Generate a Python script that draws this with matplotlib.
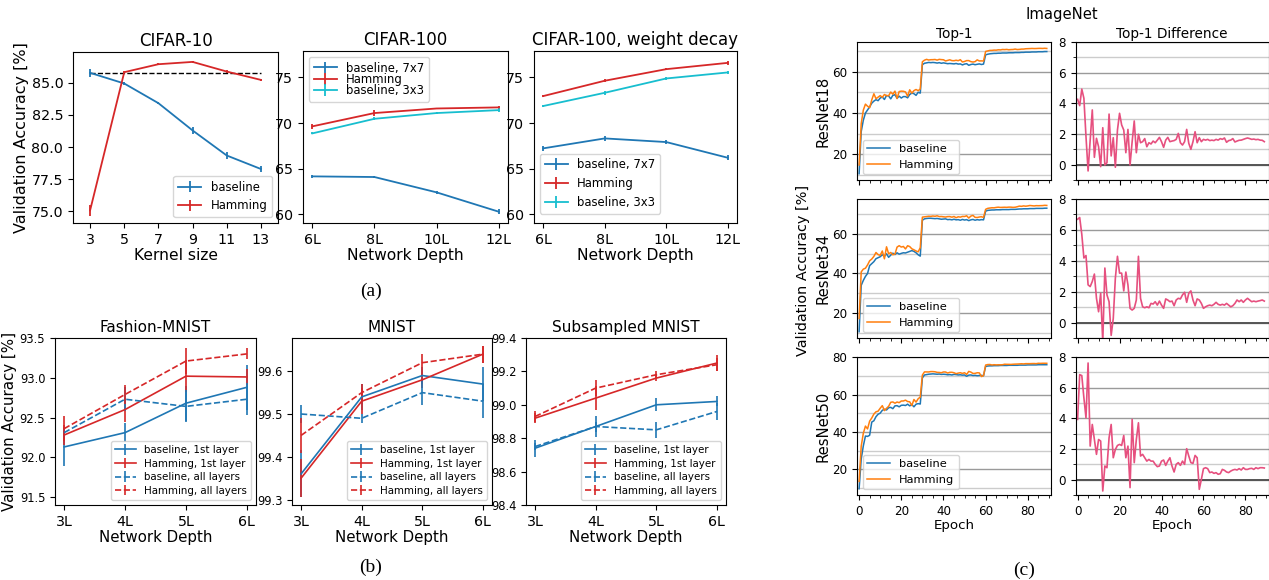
import matplotlib
matplotlib.use("Agg")
import matplotlib.pyplot as plt
import numpy as np
from matplotlib.ticker import MultipleLocator

# ---------------- (a) CIFAR ----------------
kernel_sizes = [3, 5, 7, 9, 11, 13]
c10_base = [85.78, 84.95, 83.42, 81.30, 79.35, 78.30]
c10_base_err = [0.3, 0.1, 0.1, 0.25, 0.3, 0.2]
c10_ham = [75.08, 85.83, 86.45, 86.63, 85.88, 85.23]
c10_ham_err = [0.4, 0.1, 0.08, 0.1, 0.15, 0.1]

depths_a = [6, 8, 10, 12]
depth_labels_a = ["6L", "8L", "10L", "12L"]
c100_base7 = [64.16, 64.09, 62.41, 60.29]
c100_base7_err = [0.15, 0.1, 0.2, 0.3]
c100_ham = [69.64, 71.10, 71.60, 71.72]
c100_ham_err = [0.3, 0.3, 0.1, 0.2]
c100_base3 = [68.87, 70.47, 71.10, 71.42]
c100_base3_err = [0.1, 0.15, 0.1, 0.2]
c100wd_base7 = [67.23, 68.32, 67.92, 66.20]
c100wd_base7_err = [0.3, 0.25, 0.2, 0.3]
c100wd_ham = [72.96, 74.64, 75.91, 76.60]
c100wd_ham_err = [0.1, 0.15, 0.1, 0.2]
c100wd_base3 = [71.87, 73.32, 74.89, 75.55]
c100wd_base3_err = [0.1, 0.2, 0.15, 0.15]

# ---------------- (b) MNIST variants ----------------
depths_b = [3, 4, 5, 6]
depth_labels_b = ["3L", "4L", "5L", "6L"]
fm_base1 = [92.13, 92.31, 92.68, 92.88]
fm_base1_err = [0.24, 0.12, 0.22, 0.28]
fm_ham1 = [92.28, 92.60, 93.02, 93.01]
fm_ham1_err = [0.12, 0.15, 0.2, 0.1]
fm_baseall = [92.31, 92.73, 92.64, 92.73]
fm_baseall_err = [0.05, 0.15, 0.2, 0.2]
fm_hamall = [92.36, 92.79, 93.21, 93.30]
fm_hamall_err = [0.16, 0.12, 0.16, 0.07]

mn_base1 = [99.36, 99.54, 99.59, 99.57]
mn_base1_err = [0.055, 0.03, 0.02, 0.04]
mn_ham1 = [99.35, 99.53, 99.58, 99.64]
mn_ham1_err = [0.045, 0.03, 0.02, 0.02]
mn_baseall = [99.50, 99.49, 99.55, 99.53]
mn_baseall_err = [0.02, 0.01, 0.03, 0.04]
mn_hamall = [99.45, 99.55, 99.62, 99.64]
mn_hamall_err = [0.04, 0.02, 0.02, 0.02]

sm_base1 = [98.74, 98.87, 99.00, 99.02]
sm_base1_err = [0.05, 0.06, 0.04, 0.03]
sm_ham1 = [98.92, 99.04, 99.16, 99.25]
sm_ham1_err = [0.03, 0.07, 0.02, 0.05]
sm_baseall = [98.75, 98.87, 98.85, 98.96]
sm_baseall_err = [0.02, 0.03, 0.05, 0.05]
sm_hamall = [98.93, 99.10, 99.18, 99.24]
sm_hamall_err = [0.03, 0.05, 0.02, 0.04]

# ---------------- (c) ImageNet, 90 epochs ----------------
r18_base = [10.5, 31.0, 36.5, 40.0, 41.5, 43.0, 44.8, 45.8, 46.5, 46.0,
            47.3, 47.8, 46.6, 48.5, 48.3, 46.9, 48.6, 48.9, 47.2, 48.2,
            47.3, 48.0, 48.0, 47.4, 49.0, 49.7, 49.4, 48.6, 50.1, 49.7,
            63.5, 64.2, 64.4, 64.6, 64.5, 64.6, 64.5, 64.3, 64.5, 64.2,
            64.4, 64.2, 64.0, 64.1, 64.0, 63.9, 64.1, 63.8, 63.9, 63.4,
            63.8, 64.0, 63.2, 63.6, 63.8, 63.5, 63.7, 63.9, 63.6, 63.8,
            68.3, 68.6, 68.8, 68.9, 69.0, 69.0, 69.1, 69.1, 69.2, 69.2,
            69.2, 69.3, 69.3, 69.3, 69.4, 69.4, 69.4, 69.5, 69.5, 69.6,
            69.6, 69.6, 69.7, 69.7, 69.7, 69.8, 69.8, 69.8, 69.9, 69.9]
r18_diff = [4.26, 3.85, 4.93, 4.33, 1.83, -0.41, 1.60, 3.57, 0.48, 1.72,
            1.17, -0.13, 2.41, -0.02, 0.13, 3.30, 0.57, 1.76, -0.17, 2.26,
            3.35, 2.59, 2.26, 0.78, 2.30, -0.02, 1.50, 2.85, 0.78, 1.98,
            1.43, 1.50, 1.70, 1.17, 1.43, 1.35, 1.54, 1.43, 1.60, 1.78,
            1.50, 1.13, 1.60, 1.78, 1.50, 1.54, 1.57, 1.65, 2.04, 1.43,
            1.28, 1.50, 2.30, 1.39, 1.00, 1.50, 2.15, 1.43, 1.76, 1.50,
            1.65, 1.60, 1.65, 1.57, 1.60, 1.57, 1.65, 1.60, 1.70, 1.65,
            1.74, 1.46, 1.57, 1.60, 1.70, 1.48, 1.54, 1.59, 1.60, 1.65,
            1.70, 1.74, 1.70, 1.65, 1.67, 1.63, 1.65, 1.60, 1.59, 1.50]

r34_base = [10.5, 34.0, 36.5, 38.5, 40.0, 44.0, 45.0, 46.0, 47.5, 48.0,
            48.5, 49.5, 48.7, 50.0, 48.2, 49.3, 50.3, 49.6, 50.5, 49.8,
            50.2, 50.5, 50.4, 50.8, 51.2, 51.6, 51.2, 50.5, 49.5, 48.8,
            67.0, 67.7, 67.9, 68.0, 68.0, 67.9, 67.8, 67.9, 67.7, 67.5,
            67.6, 67.7, 67.3, 67.4, 67.2, 67.5, 67.2, 67.3, 67.0, 67.4,
            67.1, 67.3, 66.8, 67.2, 67.4, 67.0, 67.3, 67.1, 67.3, 67.2,
            71.6, 72.0, 72.1, 72.2, 72.2, 72.3, 72.3, 72.3, 72.4, 72.4,
            72.4, 72.4, 72.5, 72.5, 72.5, 72.6, 72.7, 72.7, 72.8, 72.8,
            72.8, 72.9, 72.9, 72.9, 73.0, 73.0, 73.0, 73.0, 73.1, 73.1]
r34_diff = [6.69, 6.80, 5.71, 4.18, 4.34, 2.44, 2.33, 2.66, 3.14, 1.57,
            0.70, 1.90, -1.26, 3.53, 1.79, 1.35, -0.83, 0.26, 2.88, 4.29,
            3.20, 3.20, 2.05, 3.27, 2.44, 0.92, 0.81, 0.92, 1.46, 4.29,
            1.57, 1.02, 0.96, 1.02, 0.96, 1.24, 1.20, 1.35, 1.13, 1.39,
            1.13, 0.92, 1.53, 1.46, 1.35, 1.39, 1.09, 1.46, 1.57, 1.53,
            1.79, 1.96, 1.31, 1.90, 2.05, 1.46, 1.09, 1.53, 1.46, 1.24,
            0.92, 1.02, 1.09, 1.13, 1.09, 1.18, 1.31, 1.18, 1.13, 1.18,
            1.13, 1.24, 1.13, 1.02, 1.09, 1.24, 1.46, 1.35, 1.46, 1.31,
            1.46, 1.57, 1.46, 1.35, 1.39, 1.35, 1.39, 1.42, 1.46, 1.39]

r50_base = [9.5, 25.5, 32.5, 37.8, 37.6, 38.2, 45.3, 46.0, 48.2, 49.5,
            50.1, 51.6, 52.2, 51.8, 53.0, 53.2, 52.5, 54.0, 54.1, 53.5,
            54.3, 54.4, 54.2, 54.9, 54.0, 54.7, 53.5, 54.9, 55.2, 55.0,
            69.0, 70.6, 70.8, 71.0, 71.1, 71.2, 71.1, 71.0, 71.1, 70.9,
            71.0, 70.9, 70.7, 70.8, 70.6, 70.9, 70.8, 70.6, 70.7, 70.5,
            70.6, 69.9, 70.5, 70.6, 70.3, 70.4, 70.2, 70.3, 70.4, 70.2,
            75.2, 75.4, 75.5, 75.5, 75.6, 75.6, 75.6, 75.7, 75.7, 75.7,
            75.7, 75.8, 75.8, 75.8, 75.8, 75.8, 75.9, 75.9, 75.9, 75.9,
            76.0, 76.0, 76.0, 76.0, 76.0, 76.1, 76.1, 76.1, 76.1, 76.1]
r50_diff = [3.93, 6.85, 6.79, 5.34, 4.03, 7.61, 2.19, 3.60, 2.62, 1.65,
            2.62, 2.52, -0.74, 0.89, 0.78, 2.73, 3.60, 1.43, 1.97, 2.23,
            2.30, 2.23, 2.88, 1.43, 2.19, -0.52, 3.93, 1.11, 2.62, 3.71,
            1.54, 1.65, 1.43, 1.21, 1.32, 1.21, 1.21, 1.00, 0.85, 0.89,
            1.21, 1.28, 0.93, 1.21, 1.43, 0.89, 0.50, 1.00, 1.11, 0.93,
            1.21, 1.00, 2.02, 1.54, 1.11, 1.06, 1.58, 1.43, -0.63, 0.02,
            0.72, 0.78, 0.72, 0.46, 0.50, 0.41, 0.46, 0.35, 0.39, 0.67,
            0.61, 0.50, 0.46, 0.56, 0.63, 0.67, 0.63, 0.72, 0.63, 0.78,
            0.67, 0.67, 0.72, 0.74, 0.67, 0.78, 0.72, 0.78, 0.78, 0.76]

BLUE, RED, CYAN, ORANGE, PINK = '#1f77b4', '#d62728', '#17becf', '#ff7f0e', '#e6507f'
W, H = 1269, 580


def box(x0, y0, x1, y1):
    # pixel box (top-left origin) -> figure fraction rect
    return [x0 / W, 1 - y1 / H, (x1 - x0) / W, (y1 - y0) / H]


def eb(ax, x, y, e, color, label, ls='-', lw=1.3):
    ax.errorbar(x, y, yerr=e, color=color, ls=ls, lw=lw, elinewidth=lw, capsize=0, label=label)


fig = plt.figure(figsize=(12.69, 5.80), dpi=100)

# ---- (a)
ax = fig.add_axes(box(73, 52, 278, 223))
eb(ax, kernel_sizes, c10_base, c10_base_err, BLUE, 'baseline')
eb(ax, kernel_sizes, c10_ham, c10_ham_err, RED, 'Hamming')
ax.plot([kernel_sizes[0], kernel_sizes[-1]], [c10_base[0]] * 2, 'k--', lw=1)
ax.set_xlim(2, 14)
ax.set_ylim(74.1, 87.4)
ax.set_xticks(kernel_sizes)
ax.set_yticks([75.0, 77.5, 80.0, 82.5, 85.0])
ax.set_yticklabels(['75.0', '77.5', '80.0', '82.5', '85.0'])
ax.tick_params(labelsize=10.3)
ax.set_title('CIFAR-10', fontsize=12, pad=4)
ax.set_xlabel('Kernel size', fontsize=11.2, labelpad=1)
ax.set_ylabel('Validation Accuracy [%]', fontsize=11.5, labelpad=2)
ax.legend(loc='lower right', fontsize=8.4)

for rect, title, series, lg in [
        (box(303, 51, 508, 223), 'CIFAR-100',
         [(c100_base7, c100_base7_err), (c100_ham, c100_ham_err), (c100_base3, c100_base3_err)],
         dict(loc='upper left', labelspacing=-0.15)),
        (box(534, 51, 737, 223), 'CIFAR-100, weight decay',
         [(c100wd_base7, c100wd_base7_err), (c100wd_ham, c100wd_ham_err), (c100wd_base3, c100wd_base3_err)],
         dict(loc='lower left', bbox_to_anchor=(0.0, 0.02)))]:
    ax = fig.add_axes(rect)
    for (y, e), c, lab in zip(series, [BLUE, RED, CYAN], ['baseline, 7x7', 'Hamming', 'baseline, 3x3']):
        eb(ax, depths_a, y, e, c, lab)
    ax.set_ylim(59.05, 77.9)
    ax.set_xticks(depths_a)
    ax.set_xticklabels(depth_labels_a)
    ax.set_yticks([60, 65, 70, 75])
    ax.tick_params(labelsize=10.3)
    ax.set_title(title, fontsize=12, pad=4)
    ax.set_xlabel('Network Depth', fontsize=11.2, labelpad=1)
    ax.legend(fontsize=8.4, **lg)

fig.text(371 / W, 1 - 291 / H, '(a)', family='Liberation Serif', fontsize=14, ha='center', va='center')

# ---- (b)
b_panels = [
    (box(55, 338, 256, 505), 'Fashion-MNIST',
     [(fm_base1, fm_base1_err), (fm_ham1, fm_ham1_err), (fm_baseall, fm_baseall_err), (fm_hamall, fm_hamall_err)],
     (91.4, 93.5), [91.5, 92.0, 92.5, 93.0, 93.5], '%.1f'),
    (box(292, 338, 492, 505), 'MNIST',
     [(mn_base1, mn_base1_err), (mn_ham1, mn_ham1_err), (mn_baseall, mn_baseall_err), (mn_hamall, mn_hamall_err)],
     None, [99.3, 99.4, 99.5, 99.6], '%.1f'),
    (box(526, 338, 726, 505), 'Subsampled MNIST',
     [(sm_base1, sm_base1_err), (sm_ham1, sm_ham1_err), (sm_baseall, sm_baseall_err), (sm_hamall, sm_hamall_err)],
     (98.4, 99.4), [98.4, 98.6, 98.8, 99.0, 99.2, 99.4], '%.1f'),
]
b_styles = [(BLUE, '-', 'baseline, 1st layer'), (RED, '-', 'Hamming, 1st layer'),
            (BLUE, '--', 'baseline, all layers'), (RED, '--', 'Hamming, all layers')]
for i, (rect, title, series, ylim, yt, fmt) in enumerate(b_panels):
    ax = fig.add_axes(rect)
    for (y, e), (c, ls, lab) in zip(series, b_styles):
        eb(ax, depths_b, y, e, c, lab, ls=ls, lw=1.2)
    if ylim:
        ax.set_ylim(*ylim)
    ax.set_yticks(yt)
    ax.set_yticklabels([fmt % v for v in yt])
    ax.set_xticks(depths_b)
    ax.set_xticklabels(depth_labels_b, fontsize=10.3)
    ax.tick_params(axis='y', labelsize=8.3)
    ax.set_title(title, fontsize=11, pad=4)
    ax.set_xlabel('Network Depth', fontsize=10.8, labelpad=1)
    if i == 0:
        ax.set_ylabel('Validation Accuracy [%]', fontsize=10.8, labelpad=2)
    ax.legend(loc='lower right', fontsize=7.4, labelspacing=0.35)

fig.text(371 / W, 1 - 567 / H, '(b)', family='Liberation Serif', fontsize=14, ha='center', va='center')

# ---- (c)
epochs = np.arange(len(r18_base))
rows = [('ResNet18', r18_base, r18_diff, 42, 180),
        ('ResNet34', r34_base, r34_diff, 199, 338),
        ('ResNet50', r50_base, r50_diff, 357, 495)]
for i, (name, base, diff, y0, y1) in enumerate(rows):
    base = np.array(base)
    diff = np.array(diff)
    ham = base + diff
    a1 = fig.add_axes(box(857, y0, 1051, y1))
    a1.plot(epochs, base, color=BLUE, lw=1.1, label='baseline')
    a1.plot(epochs, ham, color=ORANGE, lw=1.1, label='Hamming')
    a1.set_xlim(-1, 91)
    a1.yaxis.set_major_locator(MultipleLocator(20))
    a1.yaxis.set_minor_locator(MultipleLocator(10))
    a1.xaxis.set_major_locator(MultipleLocator(20))
    a1.xaxis.set_minor_locator(MultipleLocator(5))
    a1.grid(True, which='major', axis='y', color='#9a9a9a', lw=1)
    a1.grid(True, which='minor', axis='y', color='#cccccc', lw=1)
    a1.set_axisbelow(True)
    a1.tick_params(labelsize=8.6)
    a1.tick_params(axis='y', which='minor', length=0)
    a1.set_ylabel(name, fontsize=10.6, labelpad=1)
    a1.legend(loc='lower left', fontsize=8.2)

    a2 = fig.add_axes(box(1075.5, y0, 1268.5, y1))
    a2.plot(epochs, diff, color=PINK, lw=1.2)
    a2.axhline(0, color='#555555', lw=1.4, zorder=1)
    a2.set_xlim(-1, 91)
    a2.set_ylim(-1, 8)
    a2.yaxis.set_major_locator(MultipleLocator(2))
    a2.yaxis.set_minor_locator(MultipleLocator(1))
    a2.xaxis.set_major_locator(MultipleLocator(20))
    a2.xaxis.set_minor_locator(MultipleLocator(5))
    a2.grid(True, which='major', axis='y', color='#9a9a9a', lw=1)
    a2.grid(True, which='minor', axis='y', color='#cccccc', lw=1)
    a2.set_axisbelow(True)
    a2.tick_params(labelsize=8.6)

    if i == 0:
        a1.set_title('Top-1', fontsize=9.8, pad=3)
        a2.set_title('Top-1 Difference', fontsize=9.8, pad=3)
    if i < 2:
        a1.tick_params(labelbottom=False)
        a2.tick_params(labelbottom=False)
    else:
        a1.set_xlabel('Epoch', fontsize=9.6, labelpad=1)
        a2.set_xlabel('Epoch', fontsize=9.6, labelpad=1)

fig.text(1062 / W, 1 - 15 / H, 'ImageNet', fontsize=10.6, ha='center', va='center')
fig.text(803 / W, 1 - 270 / H, 'Validation Accuracy [%]', fontsize=10.4, rotation=90, ha='center', va='center')
fig.text(1024 / W, 1 - 570 / H, '(c)', family='Liberation Serif', fontsize=14, ha='center', va='center')

fig.savefig('out.png', dpi=100)
